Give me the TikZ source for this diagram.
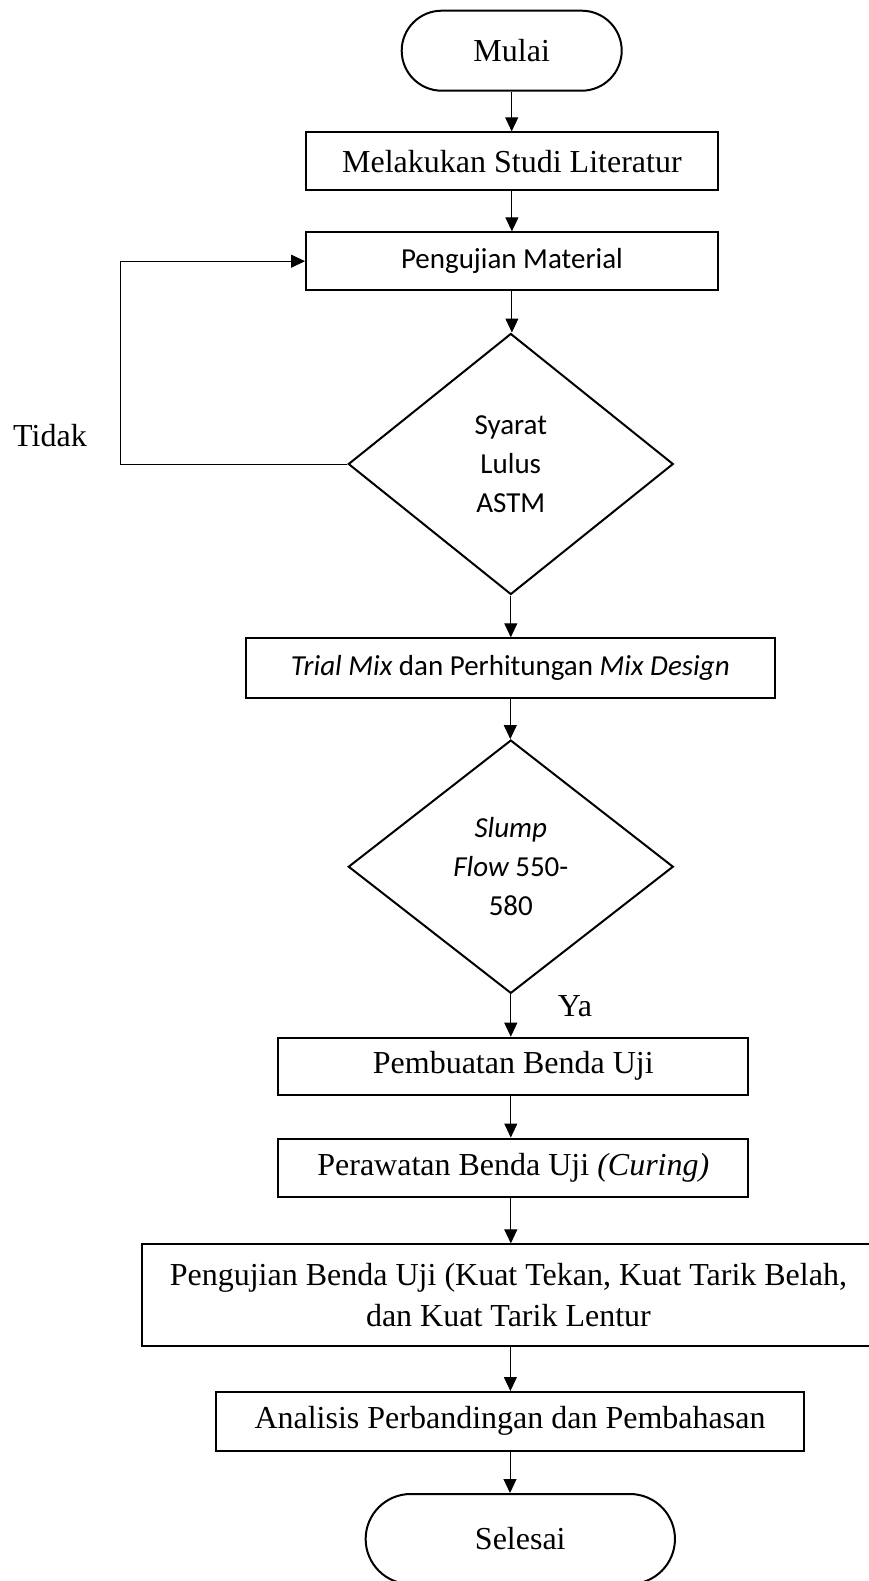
\documentclass[tikz,border=0pt]{standalone}
\usepackage{fontspec}
\setmainfont{Liberation Serif}
\newfontfamily\calfont{Carlito}
\usetikzlibrary{arrows.meta,shapes.geometric}
\begin{document}
\begin{tikzpicture}[x=1pt,y=-1pt,
  serif/.style={font=\fontsize{32}{41}\selectfont},
  sans/.style={font=\calfont\fontsize{29}{39}\selectfont},
  procbox/.style={draw,line width=2pt,rectangle,inner sep=0pt,align=center},
  term/.style={draw,line width=2pt,rectangle,rounded corners=#1,inner sep=0pt},
  decide/.style={draw,line width=2pt,diamond,inner sep=0pt,align=center,sans},
  arr/.style={line width=1pt,-{Triangle[length=14pt,width=13pt]}},
]
\useasboundingbox (0,0) rectangle (869,1581);
\clip (0,0) rectangle (869,1581);
\fill[white] (0,0) rectangle (869,1581);

\node[term=40pt,serif,minimum width=220pt,minimum height=80pt] (mulai) at (511.7,50.7) {Mulai};
\node[procbox,serif,minimum width=411.7pt,minimum height=57.7pt] (lit) at (511.9,161.2) {Melakukan Studi Literatur};
\node[procbox,sans,minimum width=411.7pt,minimum height=57.7pt] (pm) at (511.9,261.2) {Pengujian Material};
\node[decide,minimum width=325pt,minimum height=261pt] (d1) at (510.8,464) {Syarat\\Lulus\\ASTM};
\node[procbox,sans,minimum width=529.4pt,minimum height=59.4pt] (tm) at (510.3,668) {{\itshape Trial Mix} dan Perhitungan {\itshape Mix Design}};
\node[decide,minimum width=325pt,minimum height=253.3pt] (d2) at (510.8,866.7) {{\itshape Slump}\\{\itshape Flow} 550-\\580};
\node[procbox,serif,minimum width=470pt,minimum height=56.8pt] (pb) at (513.3,1066.1) {Pembuatan Benda Uji};
\node[procbox,serif,minimum width=470pt,minimum height=58.5pt] (pr) at (513.3,1167.8) {Perawatan Benda Uji {\itshape (Curing)}};
\node[procbox,serif,minimum width=733pt,minimum height=101.7pt] (pu) at (508.4,1295.2) {Pengujian Benda Uji (Kuat Tekan, Kuat Tarik Belah,\\dan Kuat Tarik Lentur};
\node[procbox,serif,minimum width=588pt,minimum height=58.6pt] (an) at (510,1421.3) {Analisis Perbandingan dan Pembahasan};
\node[term=45pt,serif,minimum width=309.3pt,minimum height=90pt] (se) at (520.3,1539) {Selesai};
\node[serif] (tidak) at (50,436) {Tidak};
\node[serif] (ya) at (575,1006) {Ya};

\coordinate (lp) at (120.8,464);

\draw[arr] (mulai.south) -- (mulai.south |- lit.north);
\draw[arr] (lit.south) -- (lit.south |- pm.north);
\draw[arr] (pm.south) -- (pm.south |- d1.north);
\draw[arr] (d1.west) -- (lp) |- (pm.west);
\draw[arr] (d1.south) -- (d1.south |- tm.north);
\draw[arr] (tm.south) -- (tm.south |- d2.north);
\draw[arr] (d2.south) -- (d2.south |- pb.north);
\draw[arr] ([xshift=-2.5pt]pb.south) -- ([xshift=-2.5pt]pb.south |- pr.north);
\draw[arr] ([xshift=-2.5pt]pr.south) -- ([xshift=-2.5pt]pr.south |- pu.north);
\draw[arr] ([xshift=2pt]pu.south) -- ([xshift=2pt]pu.south |- an.north);
\draw[arr] (an.south) -- (an.south |- se.north);
\end{tikzpicture}
\end{document}
